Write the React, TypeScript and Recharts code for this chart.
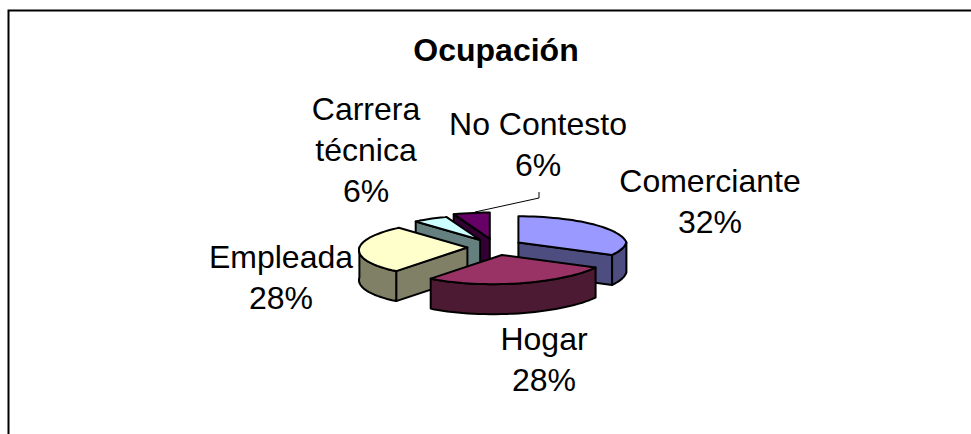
import { PieChart, Pie } from 'recharts';

const categories = ['Comerciante', 'Hogar', 'Empleada', 'Carrera técnica', 'No Contesto'];
const shares = [32, 28, 28, 6, 6];
const chartData = categories.map((name, i) => ({ name, value: shares[i] }));

// far slices first so the near ones cover them
const drawOrder = [4, 3, 0, 2, 1];
const topColors = ['#9999FF', '#993366', '#FFFFCC', '#CCFFFF', '#660066'];
const wallColors = ['#4D4D80', '#4D1A33', '#808066', '#668080', '#330033'];
const radiusScale = [1, 1, 1, 0.94, 1];
const labelLines = [['Comerciante'], ['Hogar'], ['Empleada'], ['Carrera', 'técnica'], ['No Contesto']];
const labelSpots = [
  [710, 192],
  [544, 350],
  [281, 268],
  [366, 120],
  [538, 135],
];

const TILT = 0.27;
const DEPTH = 30;
const EXPLODE = 27.7;
const FAR_SHRINK = 0.1;
const FRONT_SKEW = 9.5;
const FONT = '"Liberation Sans", Arial, sans-serif';

function toPath(pts: number[][]) {
  return 'M' + pts.map((p) => p[0].toFixed(1) + ' ' + p[1].toFixed(1)).join('L') + 'Z';
}

function Slice3D(props: any) {
  const { cx, cy, outerRadius, startAngle, endAngle, index } = props;
  const from = 90 - startAngle;
  const to = 90 - endAngle;
  const mid = (((from + to) / 2) * Math.PI) / 180;
  const ox = cx + EXPLODE * Math.sin(mid);
  const oy = cy - EXPLODE * 0.3 * Math.cos(mid);
  const r = outerRadius * radiusScale[index];

  // clock angle in degrees -> point on the tilted disc, rough perspective
  const at = (deg: number, drop = 0) => {
    const a = (deg * Math.PI) / 180;
    const c = Math.cos(a);
    const s = 1 - FAR_SHRINK * Math.max(0, c);
    const skew = FRONT_SKEW * Math.min(0, c);
    return [ox + r * s * Math.sin(a) + skew, oy - r * s * TILT * c + drop];
  };
  const apex = [ox, oy];
  const arc: number[] = [];
  for (let d = from; d < to; d += 3) arc.push(d);
  arc.push(to);

  const line = { stroke: '#000', strokeWidth: 2, strokeLinejoin: 'round' as const };
  const wall = wallColors[index];
  const cut = (deg: number) => (
    <path
      d={toPath([apex, at(deg), at(deg, DEPTH), [apex[0], apex[1] + DEPTH]])}
      fill={wall}
      {...line}
    />
  );
  const sin = (deg: number) => Math.sin((deg * Math.PI) / 180);
  const front = arc.filter((d) => d >= 90 && d <= 270);
  if (from < 90 && to > 90) front.unshift(90);
  if (from < 270 && to > 270) front.push(270);

  return (
    <g>
      {sin(from) < -0.01 && cut(from)}
      {sin(to) > 0.01 && cut(to)}
      {front.length > 1 && (
        <path
          d={toPath([...front.map((d) => at(d)), ...[...front].reverse().map((d) => at(d, DEPTH))])}
          fill={wall}
          {...line}
        />
      )}
      <path d={toPath([apex, ...arc.map((d) => at(d))])} fill={topColors[index]} {...line} />
    </g>
  );
}

function renderLabel(props: any, only: number) {
  if (props.index !== only) return <g />;
  const [x, y] = labelSpots[only];
  const rows = [...labelLines[only], shares[only] + '%'];
  return (
    <text x={x} y={y} textAnchor="middle" fontFamily={FONT} fontSize={32} fill="#000">
      {rows.map((r, i) => (
        <tspan key={r} x={x} dy={i === 0 ? 0 : 41}>
          {r}
        </tspan>
      ))}
    </text>
  );
}

export default function App() {
  return (
    <div style={{ position: 'absolute', left: 0, top: 0, width: 971, height: 434, background: '#fff' }}>
      <PieChart width={971} height={434} margin={{ top: 0, right: 0, bottom: 0, left: 0 }}>
        <path d="M8.5 434V10.5H971" fill="none" stroke="#000" strokeWidth={2} />
        <text x={496} y={61} textAnchor="middle" fontFamily={FONT} fontSize={32} fontWeight="bold" fill="#000">
          Ocupación
        </text>
        <path d="M539 192V198L475 212" fill="none" stroke="#000" strokeWidth={1} />
        {drawOrder.map((only) => (
          <Pie
            key={only}
            data={chartData}
            dataKey="value"
            nameKey="name"
            cx={495}
            cy={247}
            outerRadius={108}
            startAngle={90}
            endAngle={-270}
            isAnimationActive={false}
            labelLine={false}
            label={(p: any) => renderLabel(p, only)}
            shape={(p: any) => (p.index === only ? <Slice3D {...p} /> : <g />)}
          />
        ))}
      </PieChart>
    </div>
  );
}
